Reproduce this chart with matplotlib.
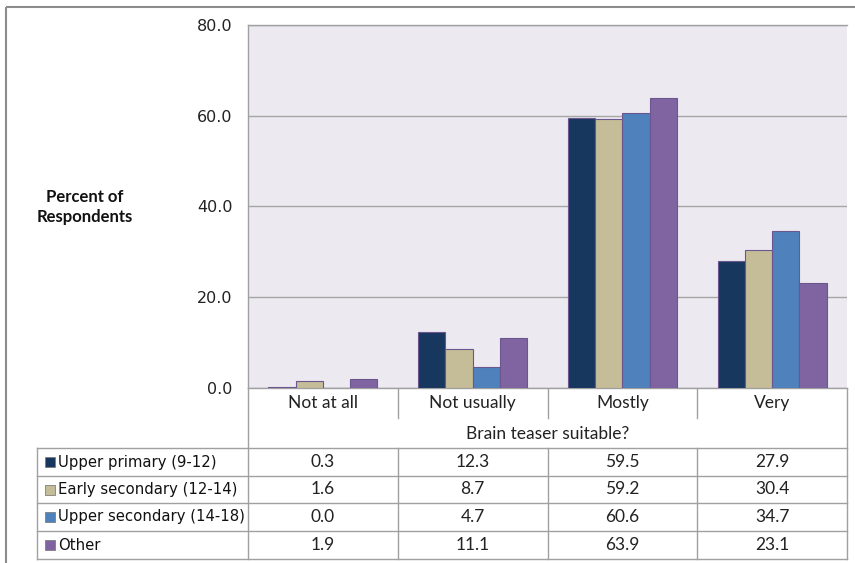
import matplotlib
matplotlib.use("Agg")
import matplotlib.pyplot as plt
from matplotlib.patches import Rectangle

categories = ["Not at all", "Not usually", "Mostly", "Very"]
series_names = ["Upper primary (9-12)", "Early secondary (12-14)",
                "Upper secondary (14-18)", "Other"]
upper_primary = [0.3, 12.3, 59.5, 27.9]
early_secondary = [1.6, 8.7, 59.2, 30.4]
upper_secondary = [0.0, 4.7, 60.6, 34.7]
other = [1.9, 11.1, 63.9, 23.1]
series_values = [upper_primary, early_secondary, upper_secondary, other]
y_ticks = [0, 20, 40, 60, 80]
x_title = "Brain teaser suitable?"
y_title = "Percent of\nRespondents"

colors = ["#17375E", "#C4BD97", "#4F81BD", "#8064A2"]
grid_col = "#A6A6A6"
line_col = "#A0A0A0"
text_font = ["Lato", "DejaVu Sans"]

W, H = 855, 563
fig = plt.figure(figsize=(W / 100, H / 100), dpi=100)
fig.patch.set_facecolor("white")

# pixel-space overlay for frame, table and titles
ov = fig.add_axes([0, 0, 1, 1], zorder=0)
ov.set_xlim(0, W)
ov.set_ylim(H, 0)
ov.axis("off")
ov.patch.set_alpha(0)

# plot area
left, right, top, bottom = 248, 847, 25, 388
ax = fig.add_axes([left / W, 1 - bottom / H, (right - left) / W, (bottom - top) / H], zorder=1)
ax.set_facecolor("#ECEAF0")
ax.set_xlim(-0.5, len(categories) - 0.5)
ax.set_ylim(0, 80)
ax.set_yticks(y_ticks)
ax.set_yticklabels([f"{t:.1f}" for t in y_ticks], fontsize=11.5, color="#222222")
ax.tick_params(axis="y", length=0, pad=11)
ax.set_xticks([])
ax.yaxis.grid(True, color=grid_col, linewidth=1)
ax.set_axisbelow(True)
ax.spines["right"].set_visible(False)
for s in ["left", "top", "bottom"]:
    ax.spines[s].set_color(line_col)
    ax.spines[s].set_linewidth(1)

bw = 0.182
for j, vals in enumerate(series_values):
    xs = [i + (j - 1.5) * bw for i in range(len(categories))]
    ax.bar(xs, vals, width=bw, color=colors[j], edgecolor="#6B5690",
           linewidth=0.8, zorder=3)

fig.canvas.draw()


def col_px(x):
    """Pixel x of data-x position on the bar axes."""
    return ax.transData.transform((x, 0))[0]


edges = [col_px(i - 0.5) for i in range(len(categories) + 1)]
centers = [col_px(i) for i in range(len(categories))]

# outer chart frame
ov.plot([6, W], [7, 7], color="#8C8C8C", lw=1.5, solid_capstyle="butt")
ov.plot([6, 6], [7, H], color="#8C8C8C", lw=1.5, solid_capstyle="butt")

# y title
ov.text(85, 207, y_title, ha="center", va="center", fontsize=12,
        fontweight="bold", family=text_font, linespacing=1.25, color="#111111")

# table rows
data_rows = [448, 476, 503, 531, 559]
tab_left = 37

# category label row and title row
ov.plot([edges[0], edges[0]], [388, data_rows[-1]], color=line_col, lw=1)
ov.plot([edges[-1], edges[-1]], [388, data_rows[-1]], color=line_col, lw=1)
for e in edges[1:-1]:
    ov.plot([e, e], [388, 418], color=line_col, lw=1)
for c, name in zip(centers, categories):
    ov.text(c, 403, name, ha="center", va="center", fontsize=12.5,
            family=text_font, color="#222222")
ov.text((edges[0] + edges[-1]) / 2, 434, x_title, ha="center", va="center",
        fontsize=12.5, family=text_font, color="#222222")

# data rows
for y in data_rows:
    ov.plot([tab_left, edges[-1]], [y, y], color=line_col, lw=1)
ov.plot([tab_left, tab_left], [data_rows[0], data_rows[-1]], color=line_col, lw=1)
for e in edges[1:-1]:
    ov.plot([e, e], [data_rows[0], data_rows[-1]], color=line_col, lw=1)

for r, (name, vals) in enumerate(zip(series_names, series_values)):
    yc = (data_rows[r] + data_rows[r + 1]) / 2
    ov.add_patch(Rectangle((45, yc - 5), 10, 10, facecolor=colors[r],
                           edgecolor="#7F7F7F", lw=0.6))
    ov.text(58, yc, name, ha="left", va="center", fontsize=10.7,
            color="#111111")
    for c, v in zip(centers, vals):
        ov.text(c, yc, f"{v:.1f}", ha="center", va="center", fontsize=12.5,
                family=text_font, color="#222222")

fig.savefig("out.png", dpi=100)
